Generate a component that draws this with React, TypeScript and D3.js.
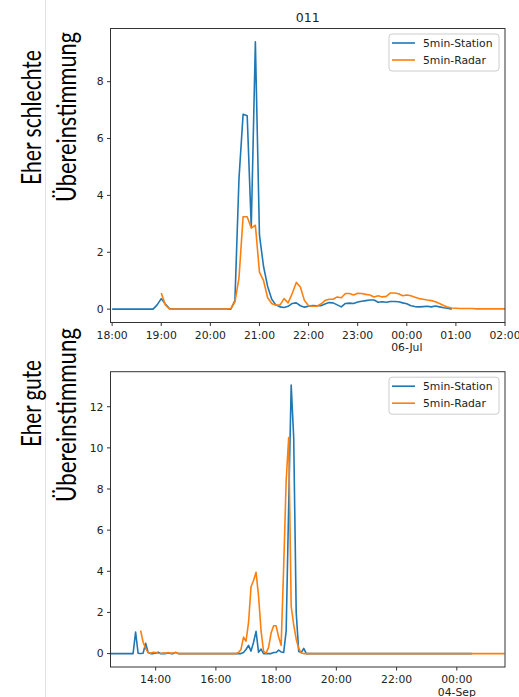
import React from 'react';
import * as d3 from 'd3';

// 5-minutes-Werte (mm), Station vs. Radar

// oben: Ereignis 011, 05./06. Juli
const topTitle = '011';
const topDomain = ['2021-07-05T17:58', '2021-07-06T02:00'];
const topStationStart = '2021-07-05T18:00';
const topStation = [
  0, 0, 0, 0, 0, 0, 0, 0, 0, 0, 0, 0.15, // 18h
  0.37, 0.18, 0.02, 0, 0, 0, 0, 0, 0, 0, 0, 0, // 19h
  0, 0, 0, 0, 0, 0, 0.3, 4.6, 6.85, 6.8, 2.9, 9.4, // 20h
  2.6, 1.5, 0.8, 0.35, 0.15, 0.08, 0.06, 0.1, 0.2, 0.22, 0.12, 0.07, // 21h
  0.1, 0.13, 0.12, 0.12, 0.18, 0.23, 0.22, 0.15, 0.08, 0.2, 0.21, 0.2, // 22h
  0.25, 0.28, 0.3, 0.32, 0.32, 0.24, 0.26, 0.24, 0.27, 0.27, 0.26, 0.22, // 23h
  0.19, 0.12, 0.09, 0.08, 0.09, 0.1, 0.08, 0.11, 0.08, 0.05, 0.03, 0, // 00h
];
const topRadarStart = '2021-07-05T19:00';
const topRadar = [
  0.57, 0.15, 0.01, 0, 0, 0, 0, 0, 0, 0, 0, 0, // 19h
  0, 0, 0, 0, 0, 0.02, 0.25, 1.1, 3.25, 3.25, 2.85, 2.95, // 20h
  1.3, 1.0, 0.4, 0.2, 0.14, 0.14, 0.37, 0.22, 0.55, 0.94, 0.78, 0.3, // 21h
  0.12, 0.1, 0.1, 0.18, 0.3, 0.35, 0.35, 0.43, 0.4, 0.55, 0.55, 0.5, // 22h
  0.56, 0.55, 0.52, 0.5, 0.43, 0.47, 0.43, 0.45, 0.57, 0.57, 0.54, 0.47, // 23h
  0.5, 0.47, 0.42, 0.37, 0.35, 0.32, 0.3, 0.26, 0.2, 0.13, 0.07, 0.04, // 00h
  0.03, 0.02, 0.02, 0.02, 0.02, 0.01, 0.01, 0.01, 0.01, 0.01, 0.01, 0.01, // 01h
  0.01, // 02:00
];

// unten: 03./04. September
const bottomDomain = ['2021-09-03T12:30', '2021-09-04T01:36'];
const bottomStationStart = '2021-09-03T12:30';
const bottomStation = [
  0, 0, 0, 0, 0, 0, // 12:30
  0, 0, 0, 0, 1.05, 0.02, 0, 0.02, 0.5, 0.05, 0, 0, // 13h
  0.02, 0.07, 0, 0, 0, 0.03, 0, 0, 0.06, 0, 0, 0, // 14h
  0, 0, 0, 0, 0, 0, 0, 0, 0, 0, 0, 0, // 15h
  0, 0, 0, 0, 0, 0, 0, 0, 0, 0, 0, 0.05, // 16h
  0.2, 0.4, 0.12, 0.55, 1.08, 0.06, 0.22, 0, 0, 0, 0, 0.05, // 17h
  0.05, 0.17, 0.08, 0.05, 1.1, 7.2, 13.05, 10.5, 2.0, 0.1, 0.05, 0.25, // 18h
  0, 0, 0, 0, 0, 0, 0, 0, 0, 0, 0, 0, // 19h
  0, 0, 0, 0, 0, 0, 0, 0, 0, 0, 0, 0, // 20h
  0, 0, 0, 0, 0, 0, 0, 0, 0, 0, 0, 0, // 21h
  0, 0, 0, 0, 0, 0, 0, 0, 0, 0, 0, 0, // 22h
  0, 0, 0, 0, 0, 0, 0, 0, 0, 0, 0, 0, // 23h
  0, 0, 0, 0, 0, 0, 0, // 00:00-00:30
];
const bottomRadarStart = '2021-09-03T13:30';
const bottomRadar = [
  1.12, 0.55, 0.25, 0.05, 0.02, 0.06, // 13:30
  0.05, 0.02, 0, 0.03, 0.02, 0.05, 0.02, 0.03, 0.05, 0, 0, 0, // 14h
  0, 0, 0, 0, 0, 0, 0, 0, 0, 0, 0, 0, // 15h
  0, 0, 0, 0, 0, 0, 0, 0, 0, 0.05, 0.2, 0.8, // 16h
  0.6, 1.5, 3.25, 3.55, 3.95, 2.8, 1.1, 0.1, 0.02, 0.3, 1.0, 1.35, // 17h
  1.35, 0.8, 0.4, 4.2, 8.4, 10.5, 2.3, 1.4, 0.7, 0.25, 0.03, 0, // 18h
  0, 0, 0, 0, 0, 0, 0, 0, 0, 0, 0, 0, // 19h
  0, 0, 0, 0, 0, 0, 0, 0, 0, 0, 0, 0, // 20h
  0, 0, 0, 0, 0, 0, 0, 0, 0, 0, 0, 0, // 21h
  0, 0, 0, 0, 0, 0, 0, 0, 0, 0, 0, 0, // 22h
  0, 0, 0, 0, 0, 0, 0, 0, 0, 0, 0, 0, // 23h
  0, 0, 0, 0, 0, 0, 0, 0, 0, 0, 0, 0, // 00h
  0, 0, 0, 0, 0, 0, 0, 0, // 01:00-01:35
];

const seriesNames = ['5min-Station', '5min-Radar'];
const colors = ['#1f77b4', '#ff7f0e'];

const parse = d3.utcParse('%Y-%m-%dT%H:%M');
const toSeries = (start: string, values: number[]) => {
  const t0 = parse(start) as Date;
  return values.map((v, i) => ({ t: d3.utcMinute.offset(t0, i * 5), v }));
};

const FONT = 'DejaVu Sans, sans-serif';
const LEFT = 110.5;
const RIGHT = 505;

type Pt = { t: Date; v: number };

function Panel({ id, top, bottom, domain, every, series, title }: {
  id: string; top: number; bottom: number; domain: string[]; every: number;
  series: Pt[][]; title?: string;
}) {
  const x = d3.scaleUtc().domain(domain.map((d) => parse(d) as Date)).range([LEFT, RIGHT]);
  const maxV = d3.max(series.flat(), (d) => d.v) as number;
  const pad = maxV * 0.05;
  const y = d3.scaleLinear().domain([-pad, maxV + pad]).range([bottom, top]);
  const line = d3.line<Pt>().x((d) => x(d.t)).y((d) => y(d.v));
  const xTicks = x.ticks(d3.utcHour.every(every) as d3.TimeInterval);
  const yTicks = y.ticks(5);
  const fmtH = d3.utcFormat('%H:%M');
  const fmtD = d3.utcFormat('%d-%b');
  const lx = 389;
  const ly = top + 5.5;
  return (
    <g>
      <defs>
        <clipPath id={id}>
          <rect x={LEFT} y={top} width={RIGHT - LEFT} height={bottom - top} />
        </clipPath>
      </defs>
      {title && (
        <text x={(LEFT + RIGHT) / 2} y={top - 7} textAnchor="middle" fontSize={12.5} fontFamily={FONT} fill="#222">
          {title}
        </text>
      )}
      <g clipPath={`url(#${id})`}>
        {series.map((s, i) => (
          <path key={i} d={line(s) as string} fill="none" stroke={colors[i]} strokeWidth={1.6} strokeLinejoin="round" />
        ))}
      </g>
      <rect x={LEFT} y={top} width={RIGHT - LEFT} height={bottom - top} fill="none" stroke="#333" strokeWidth={1} />
      {yTicks.map((t) => (
        <g key={t}>
          <line x1={LEFT - 3.5} x2={LEFT} y1={y(t)} y2={y(t)} stroke="#333" />
          <text x={LEFT - 7} y={y(t)} dy="0.35em" textAnchor="end" fontSize={10.8} fontFamily={FONT} fill="#222">
            {t}
          </text>
        </g>
      ))}
      {xTicks.map((t) => (
        <g key={+t}>
          <line x1={x(t)} x2={x(t)} y1={bottom} y2={bottom + 3.5} stroke="#333" />
          <text x={x(t)} y={bottom + 16} textAnchor="middle" fontSize={10.8} fontFamily={FONT} fill="#222">
            {fmtH(t)}
          </text>
          {t.getUTCHours() === 0 && (
            <text x={x(t)} y={bottom + 28.5} textAnchor="middle" fontSize={10.8} fontFamily={FONT} fill="#222">
              {fmtD(t)}
            </text>
          )}
        </g>
      ))}
      <rect x={lx} y={ly} width={110} height={37} rx={3} fill="#fff" fillOpacity={0.8} stroke="#ccc" />
      {seriesNames.map((n, i) => (
        <g key={n}>
          <line x1={lx + 3} x2={lx + 26} y1={ly + 9 + i * 17} y2={ly + 9 + i * 17} stroke={colors[i]} strokeWidth={1.6} />
          <text x={lx + 34} y={ly + 9 + i * 17} dy="0.35em" fontSize={10.8} fontFamily={FONT} fill="#222">
            {n}
          </text>
        </g>
      ))}
    </g>
  );
}

function SideLabel({ x, y, len, text }: { x: number; y: number; len: number; text: string }) {
  return (
    <text
      transform={`translate(${x},${y}) rotate(-90)`}
      textAnchor="middle"
      fontSize={27}
      fontFamily="Lato, Open Sans, sans-serif"
      textLength={len}
      lengthAdjust="spacingAndGlyphs"
      fill="#000"
    >
      {text}
    </text>
  );
}

export default function App() {
  const topSeries = [toSeries(topStationStart, topStation), toSeries(topRadarStart, topRadar)];
  const bottomSeries = [toSeries(bottomStationStart, bottomStation), toSeries(bottomRadarStart, bottomRadar)];
  return (
    <svg width={519} height={697} style={{ position: 'absolute', left: 0, top: 0, background: '#fff' }}>
      <rect width={519} height={697} fill="#fff" />
      <line x1={45.5} x2={45.5} y1={0} y2={697} stroke="#e2e2e2" />
      <SideLabel x={41} y={117.5} len={135} text="Eher schlechte" />
      <SideLabel x={76} y={117} len={170} text="Übereinstimmung" />
      <SideLabel x={41} y={403.5} len={87} text="Eher gute" />
      <SideLabel x={76} y={415} len={174} text="Übereinstimmung" />
      <Panel id="clipTop" top={28.5} bottom={322.5} domain={topDomain} every={1} series={topSeries} title={topTitle} />
      <Panel id="clipBottom" top={371.7} bottom={667} domain={bottomDomain} every={2} series={bottomSeries} />
    </svg>
  );
}
